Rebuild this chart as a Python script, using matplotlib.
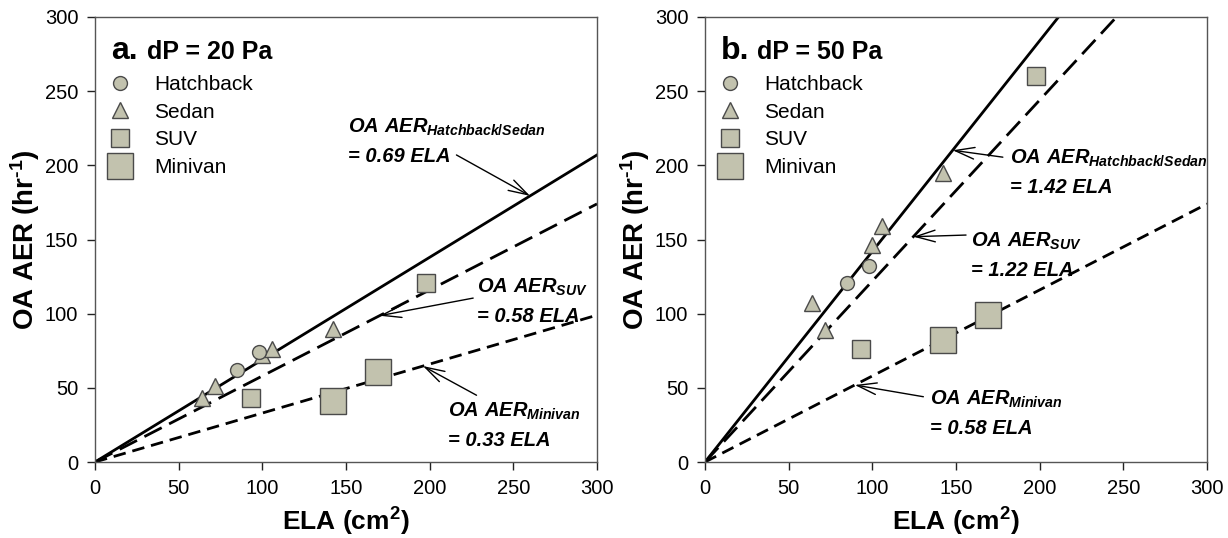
import matplotlib
matplotlib.use("Agg")
import matplotlib.pyplot as plt
import numpy as np
from matplotlib.lines import Line2D

plt.rcParams["font.family"] = ["Liberation Sans", "DejaVu Sans"]
plt.rcParams["mathtext.fontset"] = "custom"
plt.rcParams["mathtext.rm"] = "Liberation Sans:bold"
plt.rcParams["mathtext.it"] = "Liberation Sans:bold:italic"
plt.rcParams["mathtext.bf"] = "Liberation Sans:bold"
plt.rcParams["lines.scale_dashes"] = False

# ELA (cm2) per vehicle type
hatch_ela = [85, 98]
sedan_ela = [64, 72, 100, 106, 142]
suv_ela = [93, 198]
minivan_ela = [142, 169]

# OA AER (1/hr) at dP = 20 Pa
hatch_aer_20 = [62, 74]
sedan_aer_20 = [43, 51, 72, 76, 90]
suv_aer_20 = [43, 121]
minivan_aer_20 = [41, 61]

# OA AER (1/hr) at dP = 50 Pa
hatch_aer_50 = [121, 132]
sedan_aer_50 = [107, 89, 146, 159, 195]
suv_aer_50 = [76, 260]
minivan_aer_50 = [82, 99]

# fitted slopes: hatchback/sedan, SUV, minivan
slopes_20 = [0.69, 0.58, 0.33]
slopes_50 = [1.42, 1.22, 0.58]

FACE = "#c2c2ae"
EDGE = "#4a4a4a"

fig = plt.figure(figsize=(12.28, 5.38), dpi=100)
ax_a = fig.add_axes([95 / 1228, 1 - 462 / 538, 502 / 1228, 445 / 538])
ax_b = fig.add_axes([705 / 1228, 1 - 462 / 538, 502 / 1228, 445 / 538])


def fit_label(name, slope):
    return [r"$OA\ AER_{%s}$" % name, f"= {slope:.2f} ELA"]


def draw_panel(ax, letter, dp, aer, slopes, notes):
    hatch, sedan, suv, minivan = aer
    xs = np.array([0, 300])
    ax.plot(xs, slopes[0] * xs, color="black", lw=2.0, zorder=2)
    ax.plot(xs, slopes[1] * xs, color="black", lw=2.0, dashes=(14, 6), zorder=2)
    ax.plot(xs, slopes[2] * xs, color="black", lw=2.0, dashes=(9, 5), zorder=2)

    kw = dict(ls="none", mfc=FACE, mec=EDGE, mew=1.0, zorder=3)
    ax.plot(sedan_ela, sedan, marker="^", ms=11, label="Sedan", **kw)
    ax.plot(hatch_ela, hatch, marker="o", ms=10, label="Hatchback", **kw)
    ax.plot(suv_ela, suv, marker="s", ms=13, label="SUV", **kw)
    ax.plot(minivan_ela, minivan, marker="s", ms=19, label="Minivan", **kw)

    handles = [
        Line2D([], [], marker="o", ms=10, **kw),
        Line2D([], [], marker="^", ms=11, **kw),
        Line2D([], [], marker="s", ms=13, **kw),
        Line2D([], [], marker="s", ms=19, **kw),
    ]
    ax.legend(handles, ["Hatchback", "Sedan", "SUV", "Minivan"],
              loc="upper left", bbox_to_anchor=(0.025, 0.870), frameon=False,
              fontsize=15, handlelength=1.2, handletextpad=1.05,
              labelspacing=0.42, borderpad=0, borderaxespad=0)

    ax.text(0.032, 0.905, letter, transform=ax.transAxes, fontsize=23,
            fontweight="bold", va="baseline")
    ax.text(0.104, 0.905, f"dP = {dp} Pa", transform=ax.transAxes,
            fontsize=18, fontweight="bold", va="baseline")

    for (name, slope, tx, ty, sx, sy, ex, ey) in notes:
        line1, line2 = fit_label(name, slope)
        ax.text(tx, ty, line1, fontsize=14.5, va="baseline")
        ax.text(tx, ty - 19.5, line2, fontsize=14.5, fontweight="bold",
                fontstyle="italic", va="baseline")
        ax.annotate("", xy=(ex, ey), xytext=(sx, sy),
                    arrowprops=dict(arrowstyle="->,head_length=1.0,head_width=0.3",
                                    lw=1.0, color="black", mutation_scale=14,
                                    shrinkA=0, shrinkB=0))

    ax.set_xlim(0, 300)
    ax.set_ylim(0, 300)
    ax.set_xticks(np.arange(0, 301, 50))
    ax.set_yticks(np.arange(0, 301, 50))
    ax.tick_params(direction="out", length=6, width=1, labelsize=14.5,
                   color="#222222", pad=6)
    for sp in ax.spines.values():
        sp.set_color("#555555")
        sp.set_linewidth(1.0)
    ax.set_xlabel(r"ELA (cm$^{\mathbf{2}}$)", fontsize=19, fontweight="bold",
                  labelpad=6)
    # hyphen (U+2010) keeps the exponent short instead of a math minus
    ax.set_ylabel("OA AER (hr$^{\\mathbf{\u20101}}$)", fontsize=20,
                  fontweight="bold", labelpad=2)


notes_20 = [
    ("Hatchback/Sedan", slopes_20[0], 151, 222, 216, 207, 260, 0.69 * 260),
    ("SUV", slopes_20[1], 228, 114, 226, 110.5, 170, 0.58 * 170),
    ("Minivan", slopes_20[2], 211, 30.5, 228, 45, 196, 0.33 * 196),
]
notes_50 = [
    ("Hatchback/Sedan", slopes_50[0], 182, 201, 178, 205.5, 148, 1.42 * 148),
    ("SUV", slopes_50[1], 159, 145, 156, 153, 124.5, 1.22 * 124.5),
    ("Minivan", slopes_50[2], 134.5, 38.5, 130.5, 44, 89.5, 0.58 * 89.5),
]

draw_panel(ax_a, "a.", 20,
           (hatch_aer_20, sedan_aer_20, suv_aer_20, minivan_aer_20),
           slopes_20, notes_20)
draw_panel(ax_b, "b.", 50,
           (hatch_aer_50, sedan_aer_50, suv_aer_50, minivan_aer_50),
           slopes_50, notes_50)

fig.savefig("out.png", dpi=100)
plt.close(fig)
